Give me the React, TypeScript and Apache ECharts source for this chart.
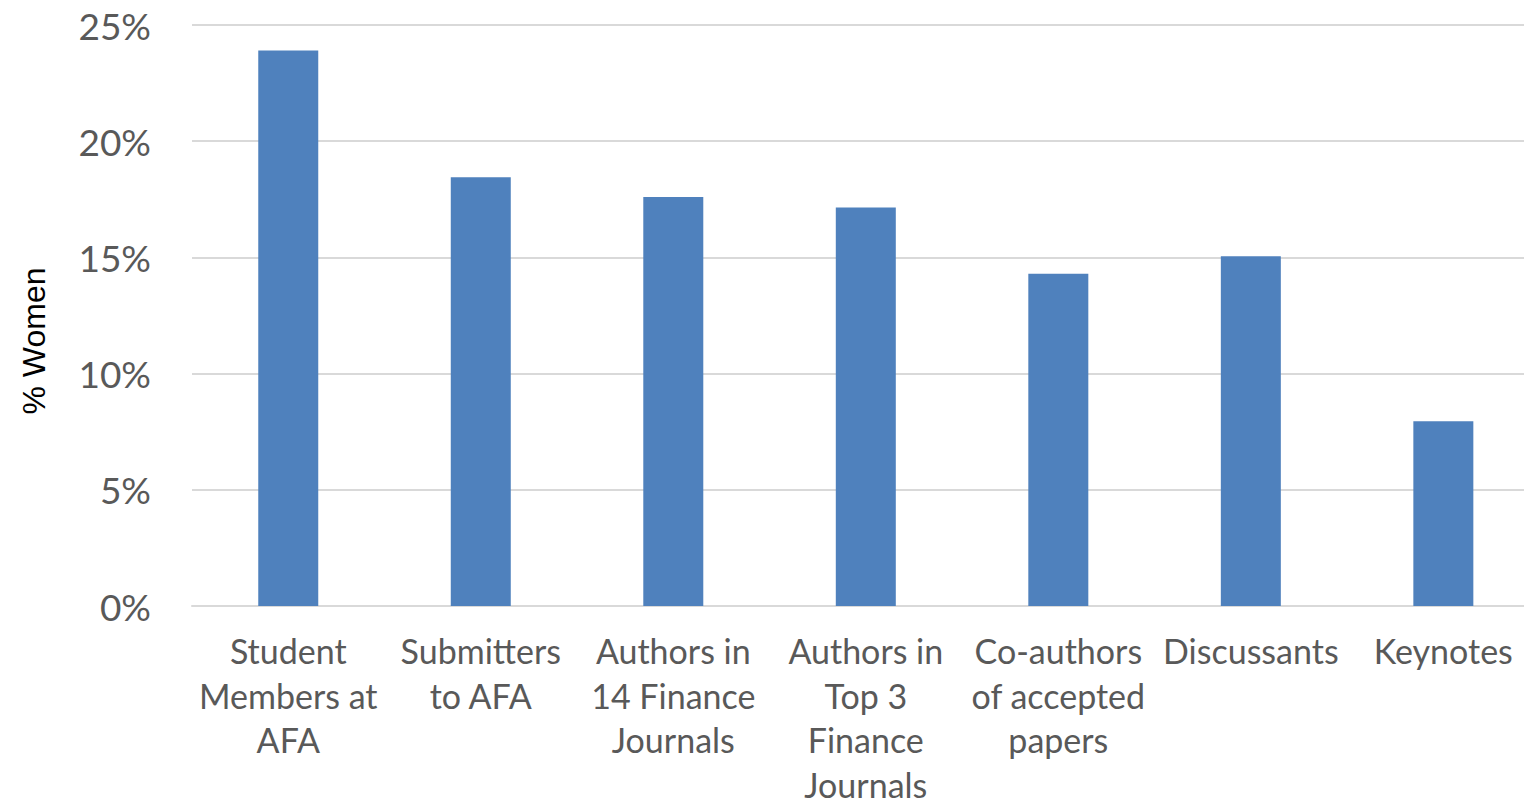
import React, { useEffect, useRef } from "react";
import * as echarts from "echarts";

const categories: string[] = [
  "Student\nMembers at\nAFA",
  "Submitters\nto AFA",
  "Authors in\n14 Finance\nJournals",
  "Authors in\nTop 3\nFinance\nJournals",
  "Co-authors\nof accepted\npapers",
  "Discussants",
  "Keynotes",
];

const womenShare: number[] = [23.9, 18.45, 17.6, 17.15, 14.3, 15.05, 7.95];

const yTicks: number[] = [0, 5, 10, 15, 20, 25];

const FONT = "Lato, 'Open Sans', sans-serif";

export default function App() {
  const ref = useRef<HTMLDivElement>(null);

  useEffect(() => {
    if (!ref.current) return;
    const chart = echarts.init(ref.current, undefined, { renderer: "svg" });
    chart.setOption({
      animation: false,
      backgroundColor: "#ffffff",
      grid: {
        left: 192,
        right: -15.6,
        top: 25,
        bottom: 200,
        containLabel: false,
        outerBoundsMode: "none",
      },
      xAxis: {
        type: "category",
        data: categories,
        axisLine: { show: true, lineStyle: { color: "#d9d9d9", width: 2 } },
        axisTick: { show: false },
        axisLabel: {
          interval: 0,
          color: "#595959",
          fontFamily: FONT,
          fontSize: 34,
          lineHeight: 44.7,
          margin: 22,
          verticalAlign: "top",
          align: "center",
          hideOverlap: false,
        },
      },
      yAxis: {
        type: "value",
        min: yTicks[0],
        max: yTicks[yTicks.length - 1],
        interval: 5,
        axisLine: { show: false },
        axisTick: { show: false },
        splitLine: { lineStyle: { color: "#d9d9d9", width: 2 } },
        axisLabel: {
          color: "#595959",
          fontFamily: FONT,
          fontSize: 37,
          margin: 41,
          formatter: (v: number) => `${v}%`,
        },
      },
      graphic: [
        {
          type: "text",
          x: 34,
          y: 341,
          rotation: Math.PI / 2,
          style: {
            text: "% Women",
            fill: "#000000",
            font: "32px 'Liberation Sans', Arial, sans-serif",
            align: "center",
            verticalAlign: "middle",
          },
        },
      ],
      series: [
        {
          type: "bar",
          data: womenShare,
          barWidth: 60,
          itemStyle: { color: "#4f81bd" },
        },
      ],
    });
    return () => chart.dispose();
  }, []);

  return (
    <div
      ref={ref}
      style={{ position: "fixed", left: 0, top: 0, width: 1524, height: 806 }}
    />
  );
}
